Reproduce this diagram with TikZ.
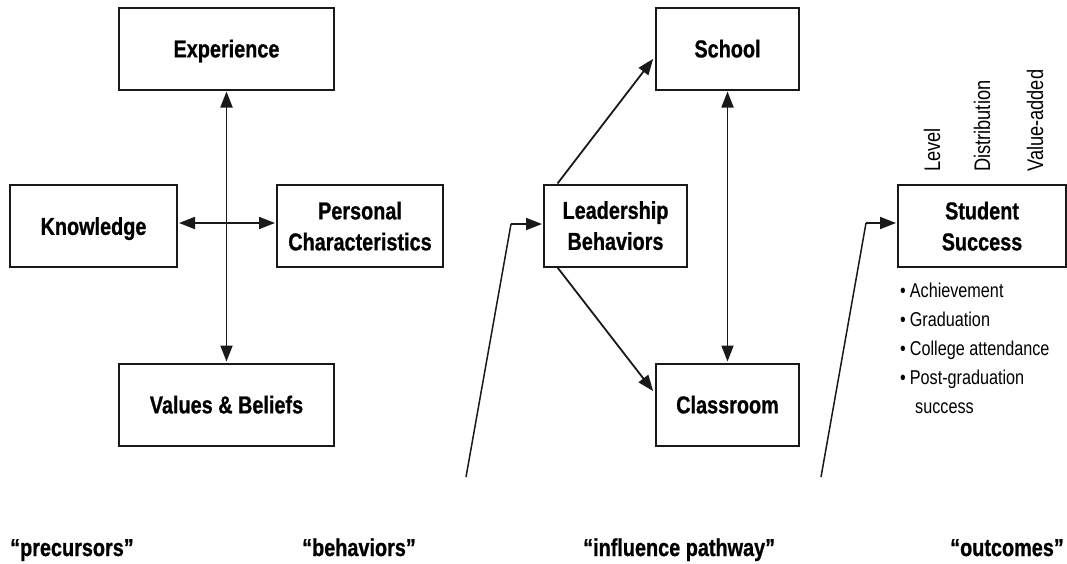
\documentclass[tikz,border=0pt]{standalone}
\usepackage{fontspec}
\setmainfont{Liberation Sans}[FakeStretch=0.81, BoldFeatures={FakeBold=0.8}]
\usetikzlibrary{arrows.meta,calc}
\begin{document}
\begin{tikzpicture}[x=1pt,y=-1pt,
  box/.style={draw=black!90, line width=2pt, minimum height=82pt, align=center, inner sep=0pt,
    text depth=0pt, font=\fontsize{24.5}{31}\selectfont\bfseries},
  conn/.style={line width=1.8pt, draw=black!90, -{Triangle[length=16pt,width=12pt]}},
  bconn/.style={line width=1.8pt, draw=black!90, {Triangle[length=16pt,width=12pt]}-{Triangle[length=16pt,width=12pt]}},
  feed/.style={line width=1.5pt, draw=black!90},
  captext/.style={font=\fontsize{24.5}{28}\selectfont\bfseries, anchor=base west, inner sep=0pt},
  itemtext/.style={font=\fontsize{20}{24}\selectfont, anchor=base west, inner sep=0pt},
  vlab/.style={font=\fontsize{22.5}{26}\selectfont, anchor=base west, inner sep=0pt, rotate=90}
]
\useasboundingbox (0,0) rectangle (1067,563);
% precursors
\node[box, minimum width=215pt] (ex) at (226.5,48.5) {Experience};
\node[box, minimum width=167pt] (kn) at (93.5,226) {Knowledge};
\node[box, minimum width=166pt] (pc) at (360,226) {Personal\\Characteristics};
\node[box, minimum width=215pt] (vb) at (226.5,404.5) {Values \& Beliefs};
\draw[bconn, shorten <=1pt, shorten >=1pt] (ex.south) -- (vb.north);
\coordinate (h) at (0,223);
\draw[bconn, shorten <=1pt, shorten >=1pt] (kn.east |- h) -- (pc.west |- h);
% behaviors
\node[box, minimum width=143pt] (lb) at (615.5,225.5) {Leadership\\Behaviors};
\node[box, minimum width=143pt] (sc) at (727.5,48.5) {School};
\node[box, minimum width=143pt] (cl) at (727.5,404.5) {Classroom};
\draw[conn, shorten >=3pt] ($(lb.north west)!0.1!(lb.north east)$) -- ($(sc.west)+(0,8)$);
\draw[conn, shorten >=3pt] ($(lb.south west)!0.1!(lb.south east)$) -- ($(cl.west)+(0,-11)$);
\draw[bconn, shorten <=1pt, shorten >=1pt] (sc.south) -- (cl.north);
\coordinate (f1) at (466,477);
\coordinate (k1) at (511,224);
\draw[feed] (f1) -- (k1);
\draw[conn, shorten >=1pt] (k1) -- (k1 -| lb.west);
% outcomes
\node[box, minimum width=168pt] (ss) at (982,226) {Student\\Success};
\coordinate (f2) at (821,477);
\coordinate (k2) at (866,223);
\draw[feed] (f2) -- (k2);
\draw[conn, shorten >=1pt] (k2) -- (k2 -| ss.west);
\node[vlab] (lv) at (940,172) {Level};
\node[vlab] (ds) at (990,172) {Distribution};
\node[vlab] (va) at (1043,172) {Value-added};
\node[itemtext] (l1) at (900,297) {\textbullet\hspace{4pt}Achievement};
\node[itemtext] (l2) at (900,326) {\textbullet\hspace{4pt}Graduation};
\node[itemtext] (l3) at (900,355) {\textbullet\hspace{4pt}College attendance};
\node[itemtext] (l4) at (900,384) {\textbullet\hspace{4pt}Post-graduation};
\node[itemtext] (l5) at (915,413) {success};
% bottom captions
\node[captext] (c1) at (10,556) {“precursors”};
\node[captext] (c2) at (302,556) {“behaviors”};
\node[captext] (c3) at (583,556) {“influence pathway”};
\node[captext] (c4) at (950,556) {“outcomes”};
\end{tikzpicture}
\end{document}
